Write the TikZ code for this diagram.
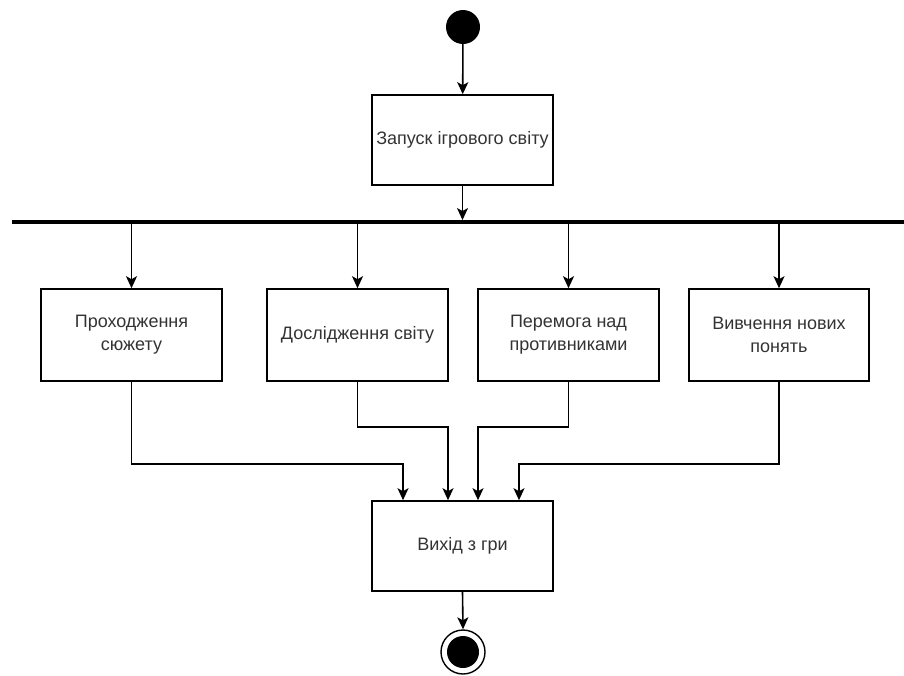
\documentclass[tikz,border=0pt]{standalone}
\usepackage{fontspec}
\setmainfont{Liberation Sans}
\usetikzlibrary{arrows.meta,positioning}
\tikzset{
  actbox/.style={draw=black, line width=1.6pt, fill=white, minimum width=181pt, minimum height=90pt,
    align=center, text=black!80, font=\fontsize{18}{23}\selectfont, inner sep=0pt},
  flow/.style={draw=black, line width=1.6pt, -{Stealth[length=12pt,width=11pt,inset=3pt]}},
  startdot/.style={circle, fill=black, minimum size=34pt, inner sep=0pt},
  endring/.style={circle, draw=black, line width=1.4pt, fill=white, minimum size=44pt, inner sep=0pt},
  enddot/.style={circle, fill=black, minimum size=32pt, inner sep=0pt},
  forkbar/.style={fill=black, minimum width=892pt, minimum height=3.5pt, inner sep=0pt}
}
\begin{document}
\begin{tikzpicture}[x=1pt, y=-1pt]
  \useasboundingbox (0,0) rectangle (904,675);

  % start, launch and fork
  \node[startdot] (start) at (463,27) {};
  \node[actbox] (launch) at (462.5,140) {Запуск ігрового світу};
  \node[forkbar] (bar) at (458,222) {};

  % parallel activities
  \node[actbox, minimum height=92pt] (b1) at (131.5,335) {Проходження\\сюжету};
  \node[actbox, minimum height=92pt] (b2) at (357.5,335) {Дослідження світу};
  \node[actbox, minimum height=92pt] (b3) at (568.5,335) {Перемога над\\противниками};
  \node[actbox, minimum height=92pt, minimum width=180pt] (b4) at (779,335) {Вивчення нових\\понять};

  % exit and final state
  \node[actbox] (exit) at (462.5,546) {Вихід з гри};
  \node[endring] (endo) at (463,652) {};
  \node[enddot] (endi) at (463,652) {};

  % arrival points on the exit box
  \coordinate (in1) at ([xshift=-59.5pt]exit.north);
  \coordinate (in2) at ([xshift=-14.5pt]exit.north);
  \coordinate (in3) at ([xshift=15.5pt]exit.north);
  \coordinate (in4) at ([xshift=56.5pt]exit.north);

  % connectors
  \draw[flow] (start) -- (launch);
  \draw[flow] (launch.south) -- (launch.south |- bar.north);
  \foreach \b in {b1,b2,b3,b4}
    \draw[flow] (bar.south -| \b.north) -- (\b.north);
  \draw[flow] (b1.south) -- ++(0,82) -| (in1);
  \draw[flow] (b2.south) -- ++(0,45) -| (in2);
  \draw[flow] (b3.south) -- ++(0,45) -| (in3);
  \draw[flow] (b4.south) -- ++(0,82) -| (in4);
  \draw[flow] (exit.south) -- (endo.north);
\end{tikzpicture}
\end{document}
